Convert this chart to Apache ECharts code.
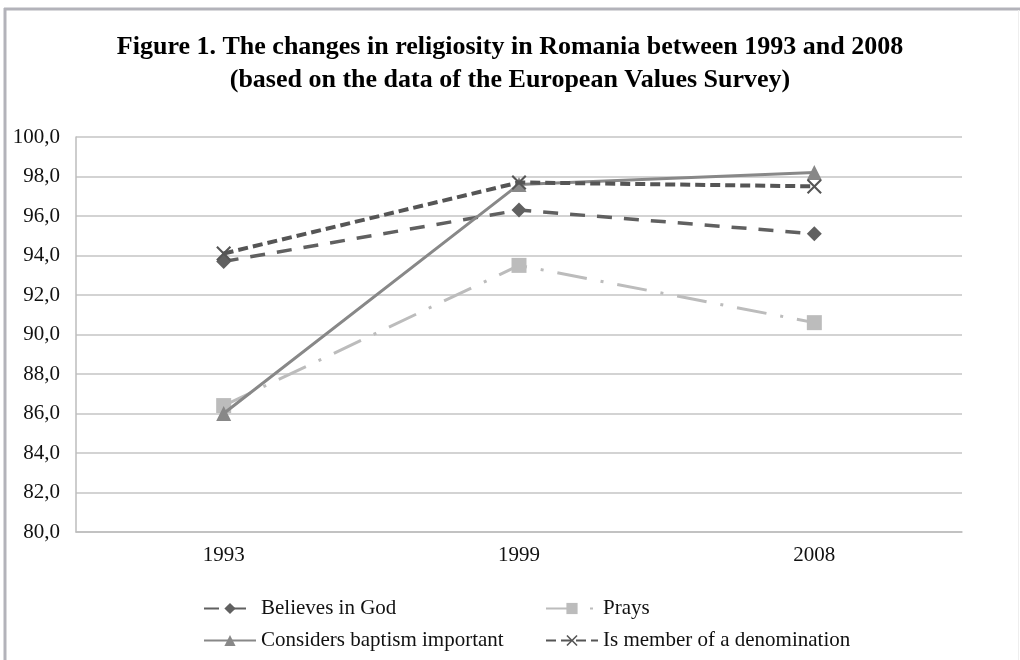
<!DOCTYPE html>
<html>
<head>
<meta charset="utf-8">
<script src="https://cdn.jsdelivr.net/npm/echarts@6/dist/echarts.min.js"></script>
<style>
  html, body { margin: 0; padding: 0; background: #fff; }
  #main { width: 1020px; height: 660px; }
</style>
</head>
<body>
<div id="main"></div>
<script>
// data
const years = ['1993', '1999', '2008']
const believesInGod = [93.7, 96.3, 95.1]
const prays = [86.4, 93.5, 90.6]
const baptismImportant = [86.0, 97.6, 98.2]
const memberOfDenomination = [94.1, 97.7, 97.5]
const yTicks = { min: 80, max: 100, step: 2 }

const serif = '"Liberation Serif", "Times New Roman", serif'
const crossPath = 'path://M0,1 L1,0 L5,4 L9,0 L10,1 L6,5 L10,9 L9,10 L5,6 L1,10 L0,9 L4,5 Z'

const myChart = echarts.init(document.getElementById('main'))

const legendBase = {
  itemWidth: 52,
  itemHeight: 14,
  itemGap: 12,
  textStyle: { fontFamily: serif, fontSize: 21, color: '#111' }
}

const option = {
  backgroundColor: '#fff',
  animation: false,
  title: {
    text: 'Figure 1. The changes in religiosity in Romania between 1993 and 2008\n(based on the data of the European Values Survey)',
    left: 'center',
    top: 26,
    textStyle: {
      fontFamily: serif,
      fontSize: 26,
      fontWeight: 'bold',
      color: '#000',
      lineHeight: 33
    }
  },
  // frame around the figure
  graphic: [
    { type: 'line', shape: { x1: 4, y1: 9, x2: 1020, y2: 9 }, style: { stroke: '#b3b3ba', lineWidth: 3 } },
    { type: 'line', shape: { x1: 5, y1: 8, x2: 5, y2: 660 }, style: { stroke: '#b3b3ba', lineWidth: 3 } },
    { type: 'line', shape: { x1: 1018.5, y1: 10, x2: 1018.5, y2: 660 }, style: { stroke: '#eeeeee', lineWidth: 1 } }
  ],
  legend: [
    Object.assign({}, legendBase, { data: ['Believes in God'], left: 198, top: 593 }),
    Object.assign({}, legendBase, { data: ['Prays'], left: 540, top: 593, itemGap: 5 }),
    Object.assign({}, legendBase, { data: ['Considers baptism important'], left: 198, top: 625, itemGap: 3 }),
    Object.assign({}, legendBase, { data: ['Is member of a denomination'], left: 540, top: 625, itemGap: 3 })
  ],
  grid: {
    left: 76,
    right: 58,
    top: 137,
    bottom: 128
  },
  xAxis: {
    type: 'category',
    data: years,
    boundaryGap: true,
    axisLine: { lineStyle: { color: '#bdbdbd', width: 1.5 } },
    axisTick: { show: false },
    axisLabel: { fontFamily: serif, fontSize: 21, color: '#111', margin: 13 }
  },
  yAxis: {
    type: 'value',
    min: yTicks.min,
    max: yTicks.max,
    interval: yTicks.step,
    axisLine: { show: true, lineStyle: { color: '#bdbdbd', width: 1.5 } },
    axisTick: { show: false },
    splitLine: { lineStyle: { color: '#c4c4c4', width: 1.5 } },
    axisLabel: {
      fontFamily: serif,
      fontSize: 21,
      color: '#111',
      margin: 16,
      formatter: function(v) { return v.toFixed(1).replace('.', ',') }
    }
  },
  series: [
    {
      name: 'Believes in God',
      type: 'line',
      data: believesInGod,
      symbol: 'diamond',
      symbolSize: 15,
      color: '#606060',
      lineStyle: { width: 3.5, type: [15, 12], color: '#606060' },
      itemStyle: { color: '#606060' },
      z: 3
    },
    {
      name: 'Prays',
      type: 'line',
      data: prays,
      symbol: 'rect',
      symbolSize: 15,
      color: '#bcbcbc',
      lineStyle: { width: 3, type: [30, 14, 3, 14], color: '#bcbcbc' },
      itemStyle: { color: '#bcbcbc' },
      z: 2
    },
    {
      name: 'Considers baptism important',
      type: 'line',
      data: baptismImportant,
      symbol: 'triangle',
      symbolSize: 15,
      color: '#888888',
      lineStyle: { width: 3, type: 'solid', color: '#888888' },
      itemStyle: { color: '#888888' },
      z: 4
    },
    {
      name: 'Is member of a denomination',
      type: 'line',
      data: memberOfDenomination,
      symbol: crossPath,
      symbolSize: 15,
      color: '#555555',
      lineStyle: { width: 4, type: [10, 5], color: '#555555' },
      itemStyle: { color: '#555555' },
      z: 5
    }
  ]
}

myChart.setOption(option)
</script>
</body>
</html>
